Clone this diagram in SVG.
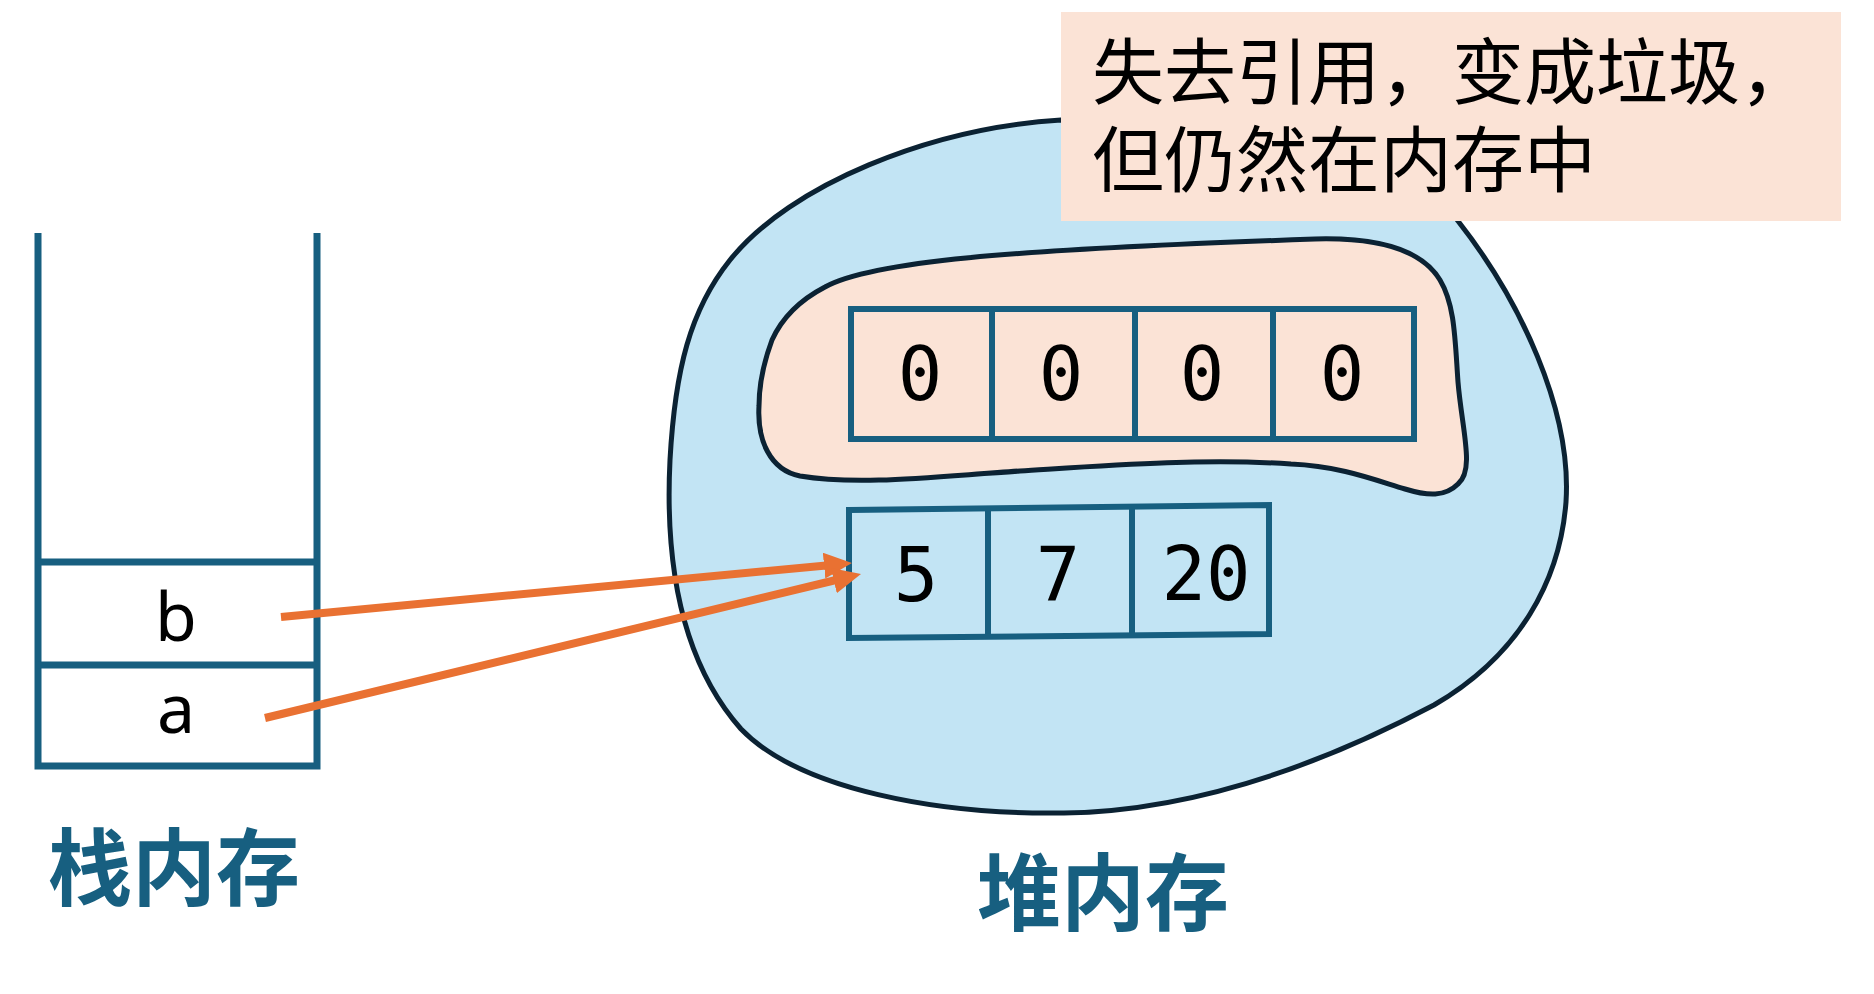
<svg xmlns="http://www.w3.org/2000/svg" width="1874" height="994" viewBox="0 0 1874 994">
<defs>
<style>
.st{fill:none;stroke:#175f80;stroke-width:7}
.cell{fill:none;stroke:#175f80;stroke-width:6}
.var{font-family:"Noto Sans","DejaVu Sans",sans-serif;font-size:68px;fill:#000;text-anchor:middle}
.num{font-family:"DejaVu Sans Mono","Liberation Mono",monospace;font-size:74px;fill:#000;text-anchor:middle}
.lbl{font-family:"Noto Sans CJK SC",sans-serif;font-weight:bold;font-size:84px;fill:#175f80;text-anchor:middle}
.note{font-family:"Noto Sans CJK SC",sans-serif;font-size:72px;fill:#000}
.arr{stroke:#e97132;stroke-width:8;fill:none}
</style>
<marker id="ah" markerWidth="28" markerHeight="26" refX="13" refY="13" orient="auto" markerUnits="userSpaceOnUse">
<path d="M0,0 L28,13 L0,26 Z" fill="#e97132"/>
</marker>
</defs>
<rect width="1874" height="994" fill="#fff"/>
<g id="stack">
<path class="st" d="M38,233 V766 H317 V233"/>
<line class="st" x1="38" y1="562" x2="317" y2="562"/>
<line class="st" x1="38" y1="665" x2="317" y2="665"/>
<text class="var" x="176" y="641">b</text>
<text class="var" x="176" y="733">a</text>
<text class="lbl" x="174" y="899">栈内存</text>
</g>
<g id="heap">
<path d="M1061,120 C930,128 790,185 730,260 C690,310 675,370 670,460 C665,560 680,660 741,729 C800,790 940,815 1064,813 C1200,811 1330,760 1434,705 C1520,655 1560,580 1566,502 C1572,410 1520,300 1458,221 L1400,140 Z" fill="#c2e4f4" stroke="#0b2233" stroke-width="5"/>
<text class="lbl" x="1103" y="924">堆内存</text>
</g>
<g id="garbage">
<path d="M825,287 C870,262 1000,250 1315,239 C1390,237 1425,255 1440,280 C1455,305 1455,340 1458,382 C1462,430 1475,470 1458,484 C1445,497 1428,496 1405,489 C1375,480 1340,466 1291,464 C1200,458 1100,466 1020,471 C940,476 860,486 800,476 C770,470 757,440 759,406 C759,380 765,359 772,340 C782,318 800,300 825,287 Z" fill="#fbe3d6" stroke="#0b2233" stroke-width="5"/>
<rect class="cell" x="851" y="309" width="563" height="130" fill="#fbe3d6"/>
<line class="cell" x1="992" y1="309" x2="992" y2="439"/>
<line class="cell" x1="1135" y1="309" x2="1135" y2="439"/>
<line class="cell" x1="1273" y1="309" x2="1273" y2="439"/>
<text class="num" x="920" y="400">0</text>
<text class="num" x="1061" y="400">0</text>
<text class="num" x="1202" y="400">0</text>
<text class="num" x="1342" y="400">0</text>
</g>
<g id="values">
<path class="cell" d="M849,510 L1269,505 L1269,634 L849,638 Z"/>
<line class="cell" x1="988" y1="509" x2="988" y2="637"/>
<line class="cell" x1="1132" y1="507" x2="1132" y2="636"/>
<text class="num" x="916" y="601">5</text>
<text class="num" x="1058" y="600">7</text>
<text class="num" x="1206" y="600">20</text>
</g>
<g id="note">
<rect x="1061" y="12" width="780" height="209" fill="#fbe3d6"/>
<text class="note" x="1092" y="98">失去引用，变成垃圾，</text>
<text class="note" x="1092" y="186">但仍然在内存中</text>
</g>
<g id="connectors">
<line class="arr" x1="281" y1="617" x2="837" y2="564.4" marker-end="url(#ah)"/>
<line class="arr" x1="265" y1="718" x2="846.4" y2="577.5" marker-end="url(#ah)"/>
</g>
</svg>
